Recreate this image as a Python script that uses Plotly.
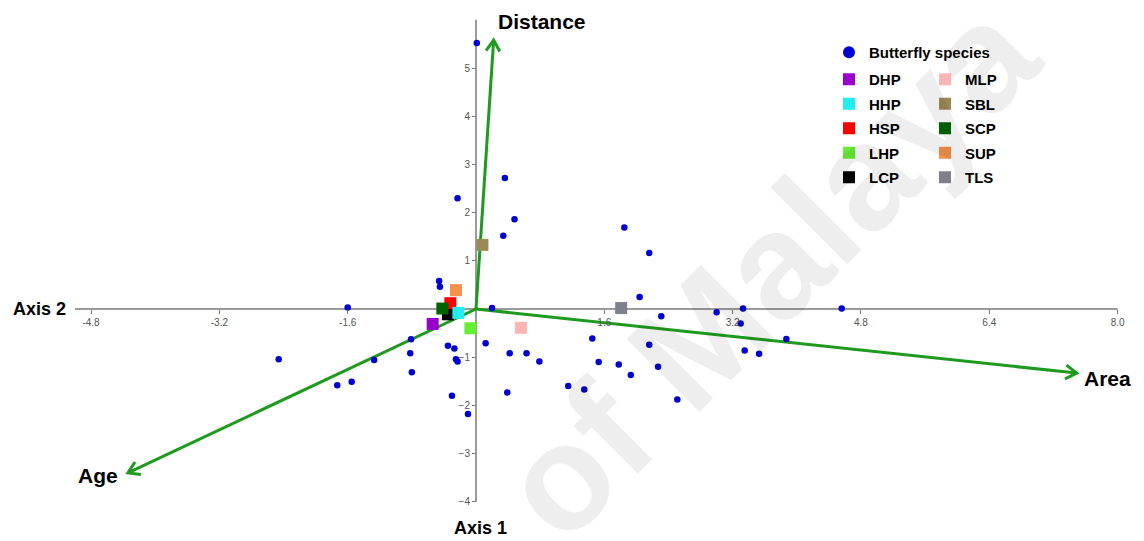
import math
import plotly.graph_objects as go

# ---------------- data ----------------
species_x = [0.36, 0.48, 0.34, 1.85, 2.16, 2.04, 0.20, 2.31, 3.00, 3.33, 4.56, 3.30,
             0.12, 0.42, 0.63, 0.79, 1.45, 1.53, 1.78, 1.93, 2.16, 2.27, 2.51, 1.15,
             1.35, 0.39, 3.35, 3.53, 3.87, -0.23, 0.01, -0.46, -0.45, -0.81, -0.82,
             -0.80, -0.35, -0.27, -0.25, -0.23, -0.30, -0.10, -1.60, -2.46, -1.73,
             -1.55, -1.27]
species_y = [2.72, 1.86, 1.52, 1.69, 1.16, 0.25, 0.02, -0.15, -0.07, 0.01, 0.01, -0.30,
             -0.71, -0.92, -0.92, -1.09, -0.61, -1.10, -1.15, -1.37, -0.74, -1.20, -1.88, -1.60,
             -1.67, -1.73, -0.86, -0.93, -0.62, 2.30, 5.52, 0.58, 0.46, -0.63, -0.92,
             -1.31, -0.76, -0.82, -1.04, -1.09, -1.80, -2.18, 0.03, -1.04, -1.58,
             -1.51, -1.06]

site_names = ["DHP", "LCP", "HSP", "SCP", "HHP", "LHP", "MLP", "SBL", "SUP", "TLS"]
site_x = [-0.54, -0.35, -0.32, -0.42, -0.22, -0.07, 0.56, 0.08, -0.25, 1.81]
site_y = [-0.31, -0.11, 0.12, 0.01, -0.08, -0.40, -0.39, 1.33, 0.39, 0.02]
site_colors = ["#9a00cc", "#000000", "#ff0000", "#006400", "#22eef0", "#66ee33",
               "#ffb4b4", "#9a8a58", "#f5914a", "#80808c"]
legend_col1 = ["DHP", "HHP", "HSP", "LHP", "LCP"]
legend_col2 = ["MLP", "SBL", "SCP", "SUP", "TLS"]

vec_names = ["Distance", "Area", "Age"]
vec_x = [0.22, 7.49, -4.34]
vec_y = [5.58, -1.33, -3.40]

x_ticks = [-4.8, -3.2, -1.6, 1.6, 3.2, 4.8, 6.4, 8.0]
x_ticktext = ["-4.8", "-3.2", "-1.6", "1.6", "3.2", "4.8", "6.4", "8.0"]
y_ticks = [-4, -3, -2, -1, 1, 2, 3, 4, 5]

# ---------------- layout constants ----------------
VIEW_W, VIEW_H = 1144, 541
OFF = 8                      # default page margin of the html body
W, H = VIEW_W - OFF, VIEW_H - OFF
ORIGIN_PX = (476.0, 309.0)   # where (0, 0) sits in the page
PX_PER_X, PX_PER_Y = 80.2, 48.2
X_RANGE = [(OFF - ORIGIN_PX[0]) / PX_PER_X, (VIEW_W - ORIGIN_PX[0]) / PX_PER_X]
Y_RANGE = [(ORIGIN_PX[1] - VIEW_H) / PX_PER_Y, (ORIGIN_PX[1] - OFF) / PX_PER_Y]
X_LINE = [-5.0, 8.0]
Y_LINE = [-4.0, 6.0]
GREEN = "#1e9a1e"
BLUE = "#0000d2"
LABEL_FONT = "Liberation Sans"


def px_x(p):
    return (p - OFF) / W


def px_y(p):
    return 1 - (p - OFF) / H


sx = W / (X_RANGE[1] - X_RANGE[0])
sy = H / (Y_RANGE[1] - Y_RANGE[0])

fig = go.Figure()

# vectors
vx, vy = [], []
for tx, ty in zip(vec_x, vec_y):
    vx += [0, tx, None]
    vy += [0, ty, None]
fig.add_trace(go.Scatter(x=vx, y=vy, mode="lines", line=dict(color=GREEN, width=3),
                         showlegend=False, hoverinfo="skip"))

# arrow heads (open chevrons) computed in pixel space
ARROW_LEN = 13
ARROW_ANG = math.radians(32)
hx, hy = [], []
for tx, ty in zip(vec_x, vec_y):
    px, py = tx * sx, ty * sy
    L = math.hypot(px, py)
    bx, by = -px / L, -py / L
    wings = []
    for s in (1, -1):
        c, sn = math.cos(s * ARROW_ANG), math.sin(s * ARROW_ANG)
        wx = px + ARROW_LEN * (bx * c - by * sn)
        wy = py + ARROW_LEN * (bx * sn + by * c)
        wings.append((wx / sx, wy / sy))
    hx += [wings[0][0], tx, wings[1][0], None]
    hy += [wings[0][1], ty, wings[1][1], None]
fig.add_trace(go.Scatter(x=hx, y=hy, mode="lines", line=dict(color=GREEN, width=3),
                         showlegend=False, hoverinfo="skip"))

# butterfly species points
fig.add_trace(go.Scatter(x=species_x, y=species_y, mode="markers", name="Butterfly species",
                         marker=dict(color=BLUE, size=6.5, symbol="circle"),
                         legend="legend", legendgroup="bs"))

# sites
for name, x, y, col in zip(site_names, site_x, site_y, site_colors):
    if name in legend_col1:
        lg, rank = "legend2", legend_col1.index(name)
    else:
        lg, rank = "legend3", legend_col2.index(name)
    fig.add_trace(go.Scatter(x=[x], y=[y], mode="markers", name=name,
                             marker=dict(color=col, size=12, symbol="square"),
                             legend=lg, legendrank=rank + 1, legendgroup=name))

# axis lines
fig.add_shape(type="line", x0=X_LINE[0], x1=X_LINE[1], y0=0, y1=0,
              line=dict(color="#7a7a7a", width=1.5), layer="below")
fig.add_shape(type="line", x0=0, x1=0, y0=Y_LINE[0], y1=Y_LINE[1],
              line=dict(color="#7a7a7a", width=1.5), layer="below")

bold = dict(family=LABEL_FONT, color="black", weight="bold")
ann = []
# vector labels
ann.append(dict(x=vec_x[0], y=vec_y[0], text="Distance", showarrow=False, xanchor="left",
                yanchor="middle", xshift=2, yshift=19, font=dict(size=21, **bold)))
ann.append(dict(x=vec_x[1], y=vec_y[1], text="Area", showarrow=False, xanchor="left",
                yanchor="middle", xshift=5, yshift=-5, font=dict(size=21, **bold)))
ann.append(dict(x=vec_x[2], y=vec_y[2], text="Age", showarrow=False, xanchor="right",
                yanchor="middle", xshift=-8, yshift=-3, font=dict(size=21, **bold)))
# axis titles
ann.append(dict(x=X_LINE[0], y=0, text="Axis 2", showarrow=False, xanchor="right",
                yanchor="middle", xshift=-7, font=dict(size=18, **bold)))
ann.append(dict(x=0, y=Y_LINE[0], text="Axis 1", showarrow=False, xanchor="center",
                yanchor="top", xshift=4, yshift=-14, font=dict(size=18, **bold)))
# watermark
ann.append(dict(x=px_x(768), y=px_y(270), xref="paper", yref="paper", text="of Malaya",
                showarrow=False, textangle=-45, xanchor="center", yanchor="middle",
                font=dict(family=LABEL_FONT, size=150, weight="bold",
                          color="rgba(0,0,0,0.065)")))

leg_common = dict(bgcolor="rgba(0,0,0,0)", borderwidth=0, xanchor="left", yanchor="top",
                  itemsizing="constant", tracegroupgap=2,
                  font=dict(family=LABEL_FONT, size=15, color="black", weight="bold"),
                  itemclick=False, itemdoubleclick=False)

fig.update_layout(
    width=W, height=H, autosize=False,
    margin=dict(l=0, r=0, t=0, b=0),
    paper_bgcolor="white", plot_bgcolor="white",
    xaxis=dict(range=X_RANGE, showgrid=False, zeroline=False, showline=False,
               anchor="free", position=(0 - Y_RANGE[0]) / (Y_RANGE[1] - Y_RANGE[0]),
               tickmode="array", tickvals=x_ticks, ticktext=x_ticktext,
               ticks="outside", ticklen=4, tickcolor="#7a7a7a", tickwidth=1,
               tickfont=dict(family=LABEL_FONT, size=10, color="#555555")),
    yaxis=dict(range=Y_RANGE, showgrid=False, zeroline=False, showline=False,
               anchor="free", position=(0 - X_RANGE[0]) / (X_RANGE[1] - X_RANGE[0]),
               tickmode="array", tickvals=y_ticks,
               ticks="outside", ticklen=4, tickcolor="#7a7a7a", tickwidth=1,
               tickfont=dict(family=LABEL_FONT, size=10, color="#555555")),
    showlegend=True,
    legend=dict(x=px_x(829), y=px_y(36), **leg_common),
    legend2=dict(x=px_x(829), y=px_y(63), **leg_common),
    legend3=dict(x=px_x(925), y=px_y(63), **leg_common),
    annotations=ann,
)

fig.write_html("out.html")
